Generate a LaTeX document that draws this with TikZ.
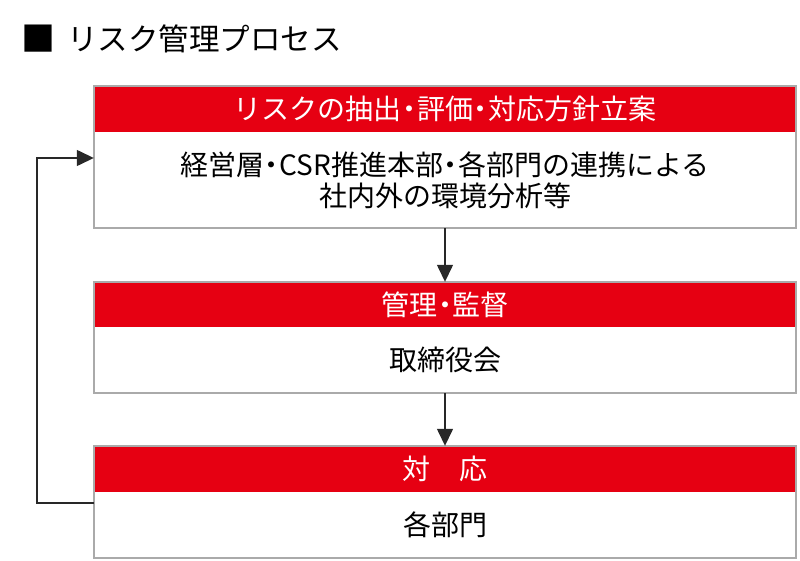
\documentclass[tikz,border=0pt]{standalone}
\usepackage{fontspec}
\setmainfont{Noto Sans CJK JP}
\usetikzlibrary{arrows.meta}
\definecolor{jred}{RGB}{230,0,18}
\definecolor{frame}{RGB}{170,170,170}
\definecolor{lineclr}{RGB}{40,40,40}
\newcommand{\ndot}{\makebox[0.55em]{・}}
\tikzset{
  hdr/.style={fill=jred, draw=none, minimum width=702pt, inner sep=0pt, text=white, font=\fontsize{28}{32}\selectfont},
  bdy/.style={fill=white, draw=none, minimum width=702pt, inner sep=0pt, align=center, font=\fontsize{28}{31}\selectfont},
  frm/.style={draw=frame, line width=2pt},
  arr/.style={draw=lineclr, line width=1.4pt, -{Triangle[length=17pt,width=16pt]}},
}
\begin{document}
\begin{tikzpicture}[x=1pt,y=-1pt]
\useasboundingbox (0,0) rectangle (800,561);
\node[font=\fontsize{34}{36}\selectfont, inner sep=0pt] (sq) at (38.5,39) {■};
\node[anchor=west, font=\fontsize{30.5}{34}\selectfont, inner sep=0pt] (title) at (67,39) {リスク管理プロセス};
% box 1
\node[hdr, minimum height=46pt] (h1) at (445,109) {リスクの抽出\ndot 評価\ndot 対応方針立案};
\node[bdy, minimum height=96pt] (b1) at (445,180) {経営層\ndot CSR推進本部\ndot 各部門の連携による\\社内外の環境分析等};
\draw[frm] (h1.north west) rectangle (b1.south east);
% box 2
\node[hdr, minimum height=45pt] (h2) at (445,304.5) {管理\ndot 監督};
\node[bdy, minimum height=66pt] (b2) at (445,360) {取締役会};
\draw[frm] (h2.north west) rectangle (b2.south east);
% box 3
\node[hdr, minimum height=46pt] (h3) at (445,469) {対\hspace{1.05em}応};
\node[bdy, minimum height=66pt] (b3) at (445,525) {各部門};
\draw[frm] (h3.north west) rectangle (b3.south east);
% arrows
\draw[arr] (b1.south) -- (h2.north);
\draw[arr] (b2.south) -- (h3.north);
\coordinate (c1) at (37,503);
\coordinate (c2) at (37,158);
\draw[arr] (b3.west |- c1) -- (c1) -- (c2) -- (b1.west |- c2);
\end{tikzpicture}
\end{document}
